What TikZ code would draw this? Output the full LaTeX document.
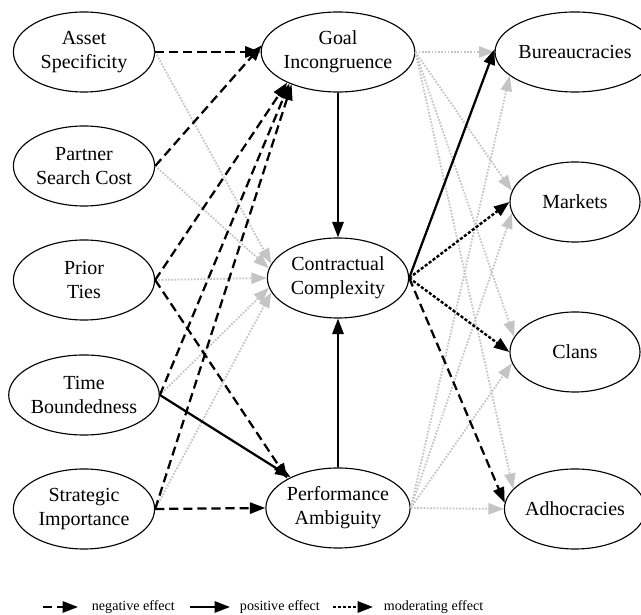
\documentclass[tikz,border=0pt]{standalone}
\usepackage{fontspec}
\setmainfont{Liberation Serif}
\usetikzlibrary{arrows.meta, shapes.geometric}
\definecolor{mildgray}{HTML}{C4C4C4}

\begin{document}
\begin{tikzpicture}[x=0.025cm, y=-0.025cm,
    factor/.style={ellipse, draw, line width=0.8pt, minimum width=3.53cm, minimum height=2cm, inner sep=0pt, align=center, font={\fontsize{14.2}{17}\selectfont}},
    mode/.style={factor, minimum width=3.25cm},
    tip/.style={-{Triangle[length=11pt, width=8pt]}},
    negative/.style={tip, line width=1.6pt, dash pattern=on 6.5pt off 3.5pt},
    positive/.style={tip, line width=1.6pt},
    moderating/.style={tip, line width=1.7pt, dash pattern=on 2.2pt off 1.3pt},
    neutral/.style={tip, mildgray, line width=1.3pt, dash pattern=on 1.2pt off 1.1pt},
    legendtext/.style={anchor=west, font=\fontsize{10}{12}\selectfont}]
    \useasboundingbox (0,0) rectangle (641,615);
    % antecedents
    \node[factor] (asset) at (84,52) {Asset\\Specificity};
    \node[factor] (partner) at (84,166) {Partner\\Search Cost};
    \node[factor] (prior) at (84,280) {Prior\\Ties};
    \node[factor] (time) at (84,395) {Time\\Boundedness};
    \node[factor] (strategic) at (84,509) {Strategic\\Importance};
    % mediators
    \node[factor] (goal) at (338,52) {Goal\\Incongruence};
    \node[factor] (complexity) at (338,278) {Contractual\\Complexity};
    \node[factor] (ambiguity) at (338,508) {Performance\\Ambiguity};
    % governance modes
    \node[mode] (bureau) at (575,52) {Bureaucracies};
    \node[mode] (markets) at (575,202) {Markets};
    \node[mode] (clans) at (575,352) {Clans};
    \node[mode] (adhoc) at (575,509) {Adhocracies};
    % non-significant paths
    \draw[neutral] (asset.east) -- (complexity.168);
    \draw[neutral] (partner.east) -- (complexity.172);
    \draw[neutral] (prior.east) -- (complexity.west);
    \draw[neutral] (time.east) -- (complexity.188);
    \draw[neutral] (strategic.east) -- (complexity.192);
    \draw[neutral] (goal.east) -- (bureau.west);
    \draw[neutral] (goal.east) -- (markets.170);
    \draw[neutral] (goal.east) -- (clans.166);
    \draw[neutral] (goal.east) -- (adhoc.162);
    \draw[neutral] (ambiguity.east) -- (bureau.200);
    \draw[neutral] (ambiguity.east) -- (markets.190);
    \draw[neutral] (ambiguity.east) -- (clans.190);
    \draw[neutral] (ambiguity.east) -- (adhoc.west);
    % antecedents to mediators
    \draw[negative] (asset.east) -- (goal.west);
    \draw[negative] (partner.east) -- (goal.175);
    \draw[negative] (prior.east) -- (goal.211);
    \draw[negative] (time.east) -- (goal.213);
    \draw[negative] (strategic.east) -- (goal.215);
    \draw[negative] (prior.east) -- (ambiguity.150);
    \draw[positive] (time.east) -- (ambiguity.147);
    \draw[negative] (strategic.east) -- (ambiguity.west);
    \draw[positive] (goal.south) -- (complexity.north);
    \draw[positive] (ambiguity.north) -- (complexity.south);
    % complexity to governance modes
    \draw[positive] (complexity.east) -- (bureau.178);
    \draw[moderating] (complexity.east) -- (markets.west);
    \draw[moderating] (complexity.east) -- (clans.west);
    \draw[negative] (complexity.east) -- (adhoc.175);
    % legend
    \coordinate (negA) at (43,607);
    \coordinate (negB) at (78,607);
    \coordinate (posA) at (190,607);
    \coordinate (posB) at (230,607);
    \coordinate (modA) at (333,607);
    \coordinate (modB) at (373,607);
    \draw[negative] (negA) -- (negB);
    \draw[positive] (posA) -- (posB);
    \draw[moderating] (modA) -- (modB);
    \node[legendtext] (negtext) at (87,607) {negative effect};
    \node[legendtext] (postext) at (235,607) {positive effect};
    \node[legendtext] (modtext) at (379,607) {moderating effect};
\end{tikzpicture}
\end{document}
